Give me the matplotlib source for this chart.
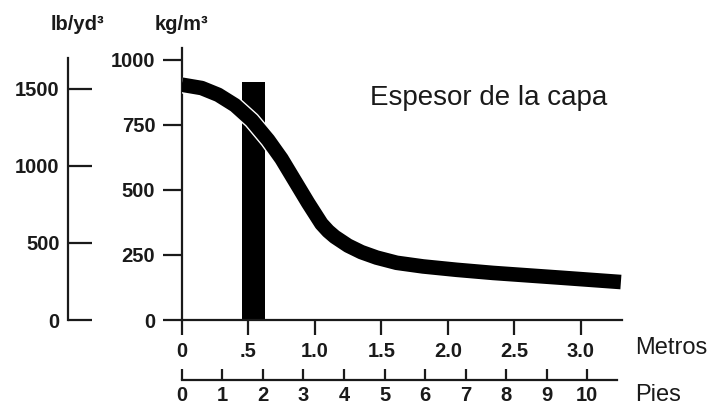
import numpy as np
import matplotlib.pyplot as plt
import matplotlib.patheffects as pe

# curve (metros, kg/m3)
metros = [0, 0.15, 0.275, 0.40, 0.526, 0.65, 0.75, 0.85, 0.95, 1.05, 1.10, 1.15, 1.25,
          1.35, 1.465, 1.615, 1.813, 2.066, 2.34, 2.84, 3.30]
densidad = [905, 892, 866, 826, 768, 692, 620, 535, 450, 370, 342, 320, 286,
            261, 240, 220, 206, 193, 181, 163, 146]

# the black bar (layer thickness marker)
barra_x = [0.538]
barra_h = [917]
barra_ancho = 0.175

kg_ticks = [0, 250, 500, 750, 1000]
lb_ticks = [0, 500, 1000, 1500]
m_ticks = [0, 0.5, 1.0, 1.5, 2.0, 2.5, 3.0]
m_labels = ["0", ".5", "1.0", "1.5", "2.0", "2.5", "3.0"]
ft_ticks = list(range(0, 11))

KG_POR_LB = 0.5933
M_POR_FT = 0.3048

plt.rcParams['font.family'] = ['Liberation Sans', 'DejaVu Sans']
col = "#1a1a1a"
lw = 1.6

fig = plt.figure(figsize=(7.12, 4.05), dpi=100)
ax = fig.add_axes([181.7 / 712, 85 / 405, 440 / 712, 272 / 405])

ax.bar(barra_x, barra_h, width=barra_ancho, color="black", zorder=2)
ax.plot(metros, densidad, color="black", lw=10.5, solid_capstyle="butt",
        solid_joinstyle="round", zorder=3,
        path_effects=[pe.Stroke(linewidth=12.5, foreground="white"), pe.Normal()])

ax.set_xlim(0, 3.306)
ax.set_ylim(0, 1046)
for s in ["top", "right"]:
    ax.spines[s].set_visible(False)
for s in ["left", "bottom"]:
    ax.spines[s].set_linewidth(lw)
    ax.spines[s].set_color(col)

ax.set_yticks(kg_ticks)
ax.set_xticks(m_ticks)
ax.set_xticklabels(m_labels)
ax.tick_params(axis="y", direction="out", length=14, width=lw, pad=5, color=col,
               labelsize=14.5, labelcolor=col)
ax.tick_params(axis="x", direction="out", length=11, width=lw, pad=5, color=col,
               labelsize=14.5, labelcolor=col)
for t in ax.get_xticklabels() + ax.get_yticklabels():
    t.set_fontweight("bold")

# lb/yd3 axis on the far left
sec = ax.secondary_yaxis((68 - 181.7) / 440,
                         functions=(lambda k: k / KG_POR_LB, lambda l: l * KG_POR_LB))
sec.set_yticks(lb_ticks)
sec.tick_params(axis="y", direction="in", length=17, width=lw, pad=6, color=col,
                labelsize=14.5, labelcolor=col)
sec.spines["left"].set_linewidth(lw)
sec.spines["left"].set_color(col)
sec.spines["left"].set_bounds(0, 1700)
for t in sec.get_yticklabels():
    t.set_fontweight("bold")

# feet axis under the metre axis
pies = ax.secondary_xaxis(-60 / 272,
                          functions=(lambda m: m / M_POR_FT, lambda f: f * M_POR_FT))
pies.set_xticks(ft_ticks)
pies.tick_params(axis="x", direction="in", length=8, width=lw, pad=4, color=col,
                 labelsize=14.5, labelcolor=col)
pies.spines["bottom"].set_linewidth(lw)
pies.spines["bottom"].set_color(col)
pies.spines["bottom"].set_bounds(0, 10.72)
for t in pies.get_xticklabels():
    t.set_fontweight("bold")

fig.text(77 / 712, 1 - 25 / 405, "lb/yd³", ha="center", va="center",
         fontsize=14.5, fontweight="bold", color=col)
fig.text(181 / 712, 1 - 25 / 405, "kg/m³", ha="center", va="center",
         fontsize=14.5, fontweight="bold", color=col)
fig.text(370 / 712, 1 - 105 / 405, "Espesor de la capa", ha="left", va="baseline",
         fontsize=20, color=col)
fig.text(635 / 712, 1 - 348 / 405, "Metros", ha="left", va="center", fontsize=17, color=col)
fig.text(635 / 712, 1 - 395 / 405, "Pies", ha="left", va="center", fontsize=17, color=col)

fig.savefig("out.png", dpi=100)
